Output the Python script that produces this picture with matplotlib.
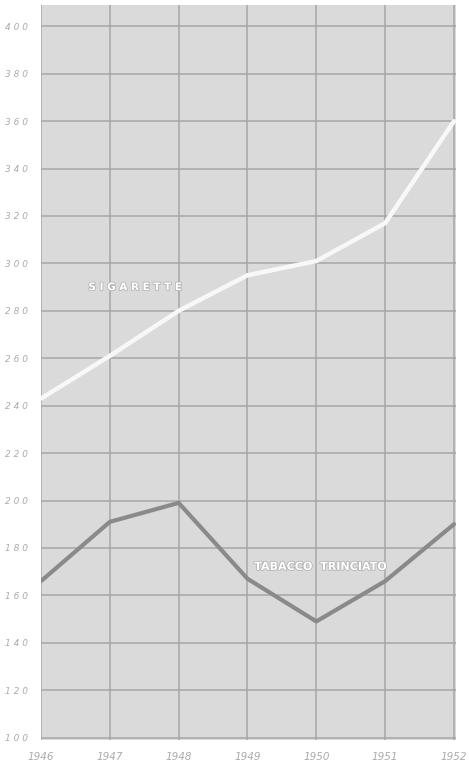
import matplotlib
matplotlib.use("Agg")
import matplotlib.pyplot as plt
import matplotlib.patheffects as pe

# dati
anni = [1946, 1947, 1948, 1949, 1950, 1951, 1952]
sigarette = [243, 261, 280, 295, 301, 317, 360]
trinciato = [166, 191, 199, 167, 149, 166, 190]
y_ticks = list(range(100, 401, 20))

fig = plt.figure(figsize=(4.69, 7.65), dpi=100)
ax = fig.add_axes([0.0874, 0.0327, 0.885, 0.9608])
ax.set_facecolor("#dadada")

ax.plot(anni, sigarette, color="#f8f8f8", lw=3.2, solid_capstyle="round", zorder=3)
ax.plot(anni, trinciato, color="#8a8a8a", lw=3.0, solid_capstyle="round", zorder=3)

ax.set_xlim(1946, 1952.03)
ax.set_ylim(99, 409)
ax.set_xticks(anni)
ax.set_yticks(y_ticks)
ax.set_xticklabels([str(a) for a in anni], fontsize=7.5, color="#ababab", style="italic")
ax.set_yticklabels([" ".join(str(v)) for v in y_ticks], fontsize=6.5, color="#ababab", style="italic")
ax.tick_params(length=0, pad=9)
ax.grid(True, color="#a6a6a6", lw=1.1, zorder=1)
for s in ax.spines.values():
    s.set_visible(False)

# etichette delle serie
ax.text(1947.37, 290, "S I G A R E T T E", color="white", fontsize=7.5, fontweight="bold",
        ha="center", va="center", zorder=4,
        path_effects=[pe.withStroke(linewidth=1.2, foreground="#b4b4b4")])
ax.text(1950.06, 172, "TABACCO  TRINCIATO", color="white", fontsize=8, fontweight="bold",
        ha="center", va="center", zorder=4,
        path_effects=[pe.withStroke(linewidth=1.2, foreground="#b4b4b4")])

fig.savefig("out.png", dpi=100, facecolor="white")
